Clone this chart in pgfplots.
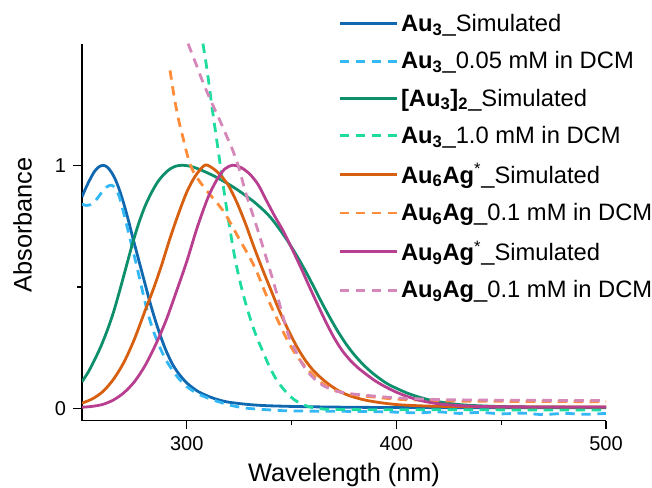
\documentclass[border=0pt]{standalone}
\usepackage{fontspec}
\setmainfont{Liberation Sans}
\usepackage{pgfplots}
\pgfplotsset{compat=1.18}

\definecolor{cAuSim}{RGB}{16,104,176}
\definecolor{cAuExp}{RGB}{51,183,245}
\definecolor{cDimSim}{RGB}{14,143,108}
\definecolor{cDimExp}{RGB}{30,220,160}
\definecolor{cSixSim}{RGB}{214,95,16}
\definecolor{cSixExp}{RGB}{255,140,56}
\definecolor{cNineSim}{RGB}{184,62,143}
\definecolor{cNineExp}{RGB}{212,135,184}

\pgfplotsset{
  simline/.style={line width=2.1pt, smooth},
  expline/.style={line width=2.1pt, smooth, dash pattern=on 7pt off 5pt},
}

\begin{document}
\begin{tikzpicture}
\useasboundingbox (-61.5pt,-50.5pt) rectangle (427.5pt,315.5pt);
\begin{axis}[
  at={(0pt,0pt)}, anchor=south west,
  scale only axis, width=393pt, height=282.75pt,
  xmin=250, xmax=500, ymin=-0.05, ymax=1.5,
  axis lines*=left,
  axis line style={line width=1pt,-},
  every tick/.style={black, line width=1pt},
  tick align=outside,
  major tick length=6.5pt, minor tick length=3.5pt,
  xtick={300,400,500}, minor xtick={350,450},
  ytick={0,1}, minor ytick={0.5},
  /pgf/number format/assume math mode=true,
  ticklabel style={font=\fontsize{15}{17}\selectfont},
  xticklabel style={yshift=-2pt},
  yticklabel style={xshift=-2pt},
  xlabel={Wavelength (nm)},
  ylabel={Absorbance},
  label style={font=\fontsize{19}{22}\selectfont},
  xlabel style={at={(axis description cs:0.5,-0.1626)}, anchor=base},
  ylabel style={at={(axis description cs:-0.1135,0.519)}, anchor=center},
  legend cell align=left,
  legend style={at={(axis description cs:0.4885,1.086)}, anchor=north west,
    draw=none, fill=none, inner sep=0pt,
    font=\fontsize{17.8}{20}\selectfont, row sep=9.6pt},
  legend image code/.code={\draw[#1] (0pt,0pt) -- (43pt,0pt);},
]

% Au3, simulated
\addplot[simline, cAuSim] coordinates {
(250,0.87) (252,0.91) (254,0.945) (256,0.975) (258,0.993) (260,1.0)
(262,0.993) (264,0.972) (266,0.94) (268,0.895) (270,0.84) (272,0.778)
(274,0.71) (276,0.645) (278,0.58) (280,0.515) (282,0.45) (284,0.39)
(286,0.335) (288,0.285) (290,0.24) (293,0.185) (296,0.145) (300,0.105)
(305,0.072) (310,0.051) (315,0.036) (320,0.026) (330,0.016) (340,0.011)
(360,0.007) (400,0.004) (500,0.003)};
\addlegendentry{\textbf{Au\textsubscript{3}}\_Simulated}

% Au3, 0.05 mM in DCM
\addplot[expline, cAuExp] coordinates {
(250,0.84) (252,0.835) (254,0.838) (256,0.85) (258,0.872) (260,0.895)
(262,0.912) (264,0.918) (266,0.905) (268,0.865) (270,0.80) (272,0.73)
(274,0.66) (276,0.59) (278,0.515) (280,0.44) (282,0.375) (284,0.32)
(286,0.275) (288,0.235) (290,0.2) (293,0.16) (296,0.125) (300,0.09)
(305,0.062) (310,0.043) (315,0.028) (320,0.015) (325,0.006) (330,0.0)
(340,-0.006) (350,-0.01) (380,-0.012) (400,-0.015) (410,-0.018)
(420,-0.014) (430,-0.02) (440,-0.016) (450,-0.022) (460,-0.019)
(470,-0.025) (480,-0.02) (490,-0.024) (500,-0.02)};
\addlegendentry{\textbf{Au\textsubscript{3}}\_0.05 mM in DCM}

% [Au3]2, simulated
\addplot[simline, cDimSim] coordinates {
(250,0.11) (253,0.15) (256,0.2) (259,0.255) (262,0.32) (265,0.395)
(268,0.485) (271,0.58) (274,0.675) (277,0.76) (280,0.83) (283,0.885)
(286,0.93) (289,0.962) (292,0.985) (295,0.997) (298,1.0) (301,0.997)
(304,0.99) (308,0.976) (312,0.96) (316,0.942) (320,0.922) (324,0.9)
(328,0.876) (332,0.85) (336,0.82) (340,0.785) (344,0.74) (348,0.69)
(352,0.635) (356,0.575) (360,0.51) (364,0.442) (368,0.378) (372,0.318)
(376,0.265) (380,0.22) (384,0.182) (388,0.15) (392,0.123) (396,0.1)
(400,0.083) (405,0.064) (410,0.049) (415,0.037) (420,0.028) (428,0.018)
(435,0.013) (450,0.008) (470,0.006) (500,0.005)};
\addlegendentry{\textbf{[Au\textsubscript{3}]\textsubscript{2}}\_Simulated}

% Au3, 1.0 mM in DCM
\addplot[expline, cDimExp] coordinates {
(307.7,1.5) (309,1.43) (310.5,1.34) (312,1.24) (313.5,1.15) (315,1.06)
(316.5,0.97) (318,0.88) (319.5,0.795) (321,0.715) (322.5,0.64)
(324,0.575) (326,0.5) (328,0.435) (330,0.377) (332,0.325) (334,0.28)
(336.5,0.23) (339,0.18) (342,0.13) (345,0.092) (348,0.062) (351,0.038)
(354,0.022) (358,0.008) (363,0.0) (370,-0.004) (400,-0.005)
(500,-0.006)};
\addlegendentry{\textbf{Au\textsubscript{3}}\_1.0 mM in DCM}

% Au6Ag*, simulated
\addplot[simline, cSixSim] coordinates {
(250,0.022) (255,0.04) (260,0.07) (265,0.12) (270,0.19) (275,0.285)
(280,0.40) (284,0.49) (288,0.59) (292,0.70) (296,0.80) (300,0.89)
(304,0.955) (308.5,1.0) (312,0.99) (316,0.96) (320,0.915) (324,0.845)
(328,0.76) (332,0.665) (336,0.575) (340,0.49) (344,0.405) (348,0.33)
(352,0.262) (356,0.205) (360,0.16) (364,0.126) (368,0.098) (372,0.075)
(376,0.058) (380,0.046) (386,0.033) (394,0.022) (402,0.015) (415,0.01)
(430,0.008) (460,0.006) (500,0.006)};
\addlegendentry{\textbf{Au\textsubscript{6}Ag}\textsuperscript{*}\_Simulated}

% Au6Ag, 0.1 mM in DCM
\addplot[expline, cSixExp] coordinates {
(292,1.39) (294,1.28) (296,1.19) (298,1.12) (300,1.05) (302,0.995)
(304,0.96) (306,0.935) (308,0.912) (310,0.89) (312,0.87) (314,0.85)
(316,0.828) (318,0.805) (320,0.775) (322,0.745) (325,0.697) (328,0.652)
(331,0.605) (334,0.55) (337,0.485) (340,0.425) (343,0.37) (346,0.315)
(349,0.265) (352,0.222) (355,0.188) (358,0.158) (362,0.123) (366,0.095)
(370,0.077) (375,0.064) (380,0.056) (387,0.049) (395,0.042) (403,0.037)
(420,0.032) (435,0.03) (500,0.028)};
\addlegendentry{\textbf{Au\textsubscript{6}Ag}\_0.1 mM in DCM}

% Au9Ag*, simulated
\addplot[simline, cNineSim] coordinates {
(250,0.005) (255,0.009) (260,0.017) (265,0.035) (270,0.065) (275,0.11)
(280,0.175) (285,0.26) (290,0.36) (295,0.48) (300,0.605) (305,0.745)
(310,0.865) (314,0.935) (318,0.984) (322,1.0) (326,0.99) (330,0.964)
(334,0.921) (338,0.855) (342,0.79) (346,0.73) (350,0.66) (354,0.587)
(358,0.51) (362,0.435) (366,0.362) (370,0.295) (374,0.24) (378,0.198)
(382,0.165) (386,0.138) (390,0.113) (395,0.088) (400,0.067) (406,0.047)
(412,0.032) (418,0.022) (425,0.015) (435,0.01) (450,0.007)
(500,0.006)};
\addlegendentry{\textbf{Au\textsubscript{9}Ag}\textsuperscript{*}\_Simulated}

% Au9Ag, 0.1 mM in DCM
\addplot[expline, cNineExp] coordinates {
(300.6,1.5) (304,1.425) (308,1.335) (312,1.255) (316,1.18) (319,1.12)
(322,1.06) (325,0.985) (328,0.89) (331,0.81) (334,0.73) (337,0.645)
(340,0.56) (343,0.47) (345,0.405) (347,0.345) (349,0.29) (352,0.235)
(355,0.185) (358,0.148) (362,0.113) (366,0.09) (371,0.072) (378,0.061)
(387,0.053) (395,0.047) (402,0.043) (420,0.037) (450,0.034)
(500,0.033)};
\addlegendentry{\textbf{Au\textsubscript{9}Ag}\_0.1 mM in DCM}

\end{axis}
\end{tikzpicture}
\end{document}
